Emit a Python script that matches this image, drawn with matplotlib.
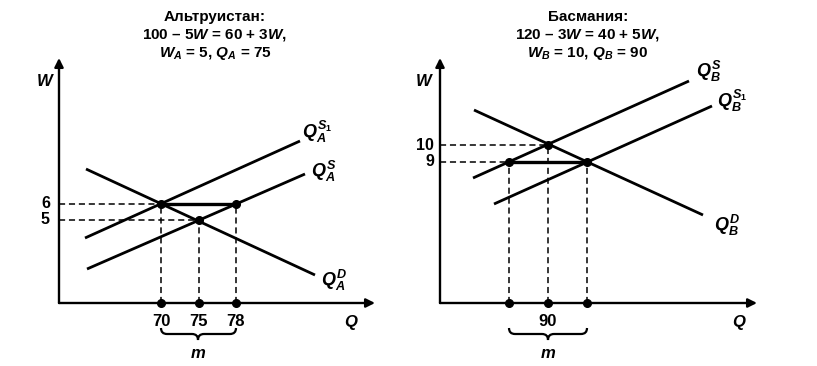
import matplotlib
matplotlib.use("Agg")
import matplotlib.pyplot as plt
from matplotlib.path import Path
from matplotlib.patches import PathPatch

plt.rcParams["font.family"] = ["Liberation Sans", "DejaVu Sans"]
plt.rcParams["font.weight"] = "bold"
plt.rcParams["mathtext.fontset"] = "custom"
plt.rcParams["mathtext.rm"] = "Liberation Sans:bold"
plt.rcParams["mathtext.it"] = "Liberation Sans:italic:bold"
plt.rcParams["mathtext.bf"] = "Liberation Sans:bold"

# schematic units: the diagram is not drawn to scale, positions are diagram units
# --- Альтруистан ---
title_a = ["Альтруистан:", "100 – 5$W$ = 60 + 3$W$,", "$W_A$ = 5, $Q_A$ = 75"]
q_pos_a = [102, 140, 177]
q_lab_a = ["70", "75", "78"]
w_pos_a = [99, 83]
w_lab_a = ["6", "5"]
pts_q_a = [102, 140, 177]
pts_w_a = [99, 83, 99]
demand_a = ([27, 256], [134, 28])
supply_a = ([28, 246], [34, 129])
supply1_a = ([26, 241], [65, 162])
lab_a = [("$Q_A^{S_{\\mathrm{1}}}$", 243, 171), ("$Q_A^S$", 252, 132), ("$Q_A^D$", 262, 23)]

# --- Басмания ---
title_b = ["Басмания:", "120 – 3$W$ = 40 + 5$W$,", "$W_B$ = 10, $Q_B$ = 90"]
q_pos_b = [69, 108, 147]
q_lab_b = ["", "90", ""]
w_pos_b = [158, 141]
w_lab_b = ["10", "9"]
pts_q_b = [69, 108, 147]
pts_w_b = [141, 158, 141]
demand_b = ([34, 263], [193, 88])
supply_b = ([33, 249], [125, 222])
supply1_b = ([54, 272], [99, 197])
lab_b = [("$Q_B^S$", 256, 232), ("$Q_B^{S_{\\mathrm{1}}}$", 277, 202), ("$Q_B^D$", 274, 78)]

fig = plt.figure(figsize=(8.17, 3.66), dpi=100)


def brace(ax, x0, x1, xc, ytop, ymid, ytip):
    verts = [(x0, ytop), (x0, ymid), (x0 + 6, ymid), (xc - 6, ymid),
             (xc, ymid), (xc, ytip), (xc, ymid), (xc + 6, ymid),
             (x1 - 6, ymid), (x1, ymid), (x1, ytop)]
    codes = [Path.MOVETO, Path.CURVE3, Path.CURVE3, Path.LINETO,
             Path.CURVE3, Path.CURVE3, Path.CURVE3, Path.CURVE3,
             Path.LINETO, Path.CURVE3, Path.CURVE3]
    ax.add_patch(PathPatch(Path(verts, codes), fill=False, lw=1.6,
                           color="black", clip_on=False))


def panel(left, title, title_x, q_pos, q_lab, w_pos, w_lab, pts_q, pts_w,
          dem, sup, sup1, labels, xlen, wlab_x, ylab_x, qlab_xy, hbar):
    ax = fig.add_axes([left / 817, 63 / 366, 325 / 817, 250 / 366])
    ax.set_xlim(0, 325)
    ax.set_ylim(0, 250)
    ax.axis("off")

    # axes with arrows
    arr = dict(arrowstyle="-|>", lw=1.7, color="black", mutation_scale=13,
               shrinkA=0, shrinkB=0)
    ax.annotate("", xy=(xlen, 0), xytext=(0, 0), arrowprops=arr, annotation_clip=False)
    ax.annotate("", xy=(0, 245), xytext=(0, 0), arrowprops=arr, annotation_clip=False)

    # dashed guides
    for q, w in zip(pts_q, pts_w):
        ax.plot([q, q], [0, w], ls=(0, (4, 2.5)), lw=1.1, color="black", clip_on=False)
    for w in w_pos:
        qs = [q for q, ww in zip(pts_q, pts_w) if ww == w]
        ax.plot([0, min(qs)], [w, w], ls=(0, (4, 2.5)), lw=1.1, color="black", clip_on=False)

    for xs, ys in (dem, sup, sup1):
        ax.plot(xs, ys, color="black", lw=2.0, solid_capstyle="butt")

    # horizontal gap segment
    ax.plot([pts_q[hbar[0]], pts_q[hbar[1]]], [pts_w[hbar[0]], pts_w[hbar[1]]],
            color="black", lw=2.4)

    ax.plot(pts_q, pts_w, "o", color="black", ms=5.5, clip_on=False)
    ax.plot(pts_q, [0] * len(pts_q), "o", color="black", ms=5.5, clip_on=False)

    for txt, x, y in labels:
        ax.text(x, y, txt, fontsize=13, ha="left", va="center")

    for q, lab in zip(q_pos, q_lab):
        ax.text(q, -19, lab, fontsize=12, ha="center", va="center")
    for w, lab in zip(w_pos, w_lab):
        ax.text(ylab_x, w, lab, fontsize=11.5, ha="right", va="center")

    ax.text(wlab_x, 222, "$W$", fontsize=12, ha="center", va="center")
    ax.text(qlab_xy[0], qlab_xy[1], "$Q$", fontsize=12, ha="center", va="center")

    for i, line in enumerate(title):
        ax.text(title_x, 286 - 18 * i, line, fontsize=11, ha="center", va="center")

    xc = (pts_q[0] + pts_q[-1]) / 2 if q_lab[0] == "" else q_pos[1] - 1
    brace(ax, min(pts_q), max(pts_q), xc, -25, -31, -37)
    ax.text(xc, -50, "$m$", fontsize=12, ha="center", va="center")
    return ax


panel(59, title_a, 156, q_pos_a, q_lab_a, w_pos_a, w_lab_a, pts_q_a, pts_w_a,
      demand_a, supply_a, supply1_a, lab_a, 316, -14, -9, (292, -20), (0, 2))
panel(440, title_b, 148, q_pos_b, q_lab_b, w_pos_b, w_lab_b, pts_q_b, pts_w_b,
      demand_b, supply_b, supply1_b, lab_b, 317, -16, -6, (299, -19), (0, 2))

fig.savefig("out.png", dpi=100, facecolor="white")
